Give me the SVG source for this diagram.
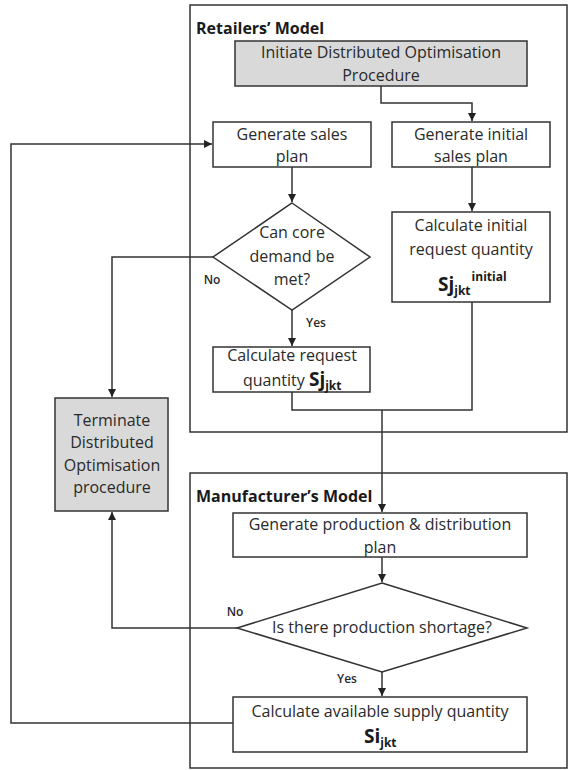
<svg xmlns="http://www.w3.org/2000/svg" width="569" height="770" viewBox="0 0 569 770">
<defs>
<marker id="ah" markerWidth="8" markerHeight="8" refX="8" refY="4" orient="auto" markerUnits="userSpaceOnUse">
<path d="M0,0 L8,4 L0,8 Z" fill="#222"/>
</marker>
<style>
.frame{fill:none;stroke:#333;stroke-width:1.5}
.box{fill:#fff;stroke:#333;stroke-width:1.5}
.grey{fill:#d9d9d9;stroke:#333;stroke-width:1.5}
.t{font-family:"Open Sans","Liberation Sans",Arial,sans-serif;font-size:16px;fill:#2a2a2a;text-anchor:middle}
.ts{font-family:"Open Sans","Liberation Sans",Arial,sans-serif;font-size:16px;fill:#2a2a2a;text-anchor:start}
.h{font-family:"Open Sans","Liberation Sans",Arial,sans-serif;font-size:16px;font-weight:bold;fill:#1a1a1a}
.lbl{font-family:"Open Sans","Liberation Sans",Arial,sans-serif;font-size:12px;font-weight:600;fill:#2a2a2a;text-anchor:middle}
.big{font-family:"Open Sans","Liberation Sans",Arial,sans-serif;font-weight:bold;fill:#1a1a1a}
.c{fill:none;stroke:#333;stroke-width:1.5}
</style>
</defs>
<rect id="retailers" class="frame" x="190" y="5" width="377" height="427"/>
<text class="h" x="196" y="34">Retailers’ Model</text>
<rect id="manufacturer" class="frame" x="190" y="473" width="377" height="295"/>
<text class="h" x="196" y="502">Manufacturer’s Model</text>
<g id="connectors">
<path class="c" d="M381,86 V103 H472 V121" marker-end="url(#ah)"/>
<path class="c" d="M292,167 V202" marker-end="url(#ah)"/>
<path class="c" d="M292,310 V346" marker-end="url(#ah)"/>
<path class="c" d="M472,167 V211" marker-end="url(#ah)"/>
<path class="c" d="M292,392 V410 H472 V302"/>
<path class="c" d="M382,410 V512" marker-end="url(#ah)"/>
<path class="c" d="M213,257 H112 V397" marker-end="url(#ah)"/>
<path class="c" d="M382,557 V582" marker-end="url(#ah)"/>
<path class="c" d="M237,628 H112 V512" marker-end="url(#ah)"/>
<path class="c" d="M382,672 V696" marker-end="url(#ah)"/>
<path class="c" d="M233,723 H11 V144 H212" marker-end="url(#ah)"/>
</g>
<g id="initiate">
<rect class="grey" x="235" y="41" width="292" height="45"/>
<text class="t" x="381" y="58">Initiate Distributed Optimisation</text>
<text class="t" x="381" y="81">Procedure</text>
</g>
<g id="gen-sales">
<rect class="box" x="213" y="122" width="158" height="45"/>
<text class="t" x="292" y="140">Generate sales</text>
<text class="t" x="292" y="162">plan</text>
</g>
<g id="gen-initial">
<rect class="box" x="392" y="122" width="158" height="45"/>
<text class="t" x="471" y="140">Generate initial</text>
<text class="t" x="471" y="162">sales plan</text>
</g>
<g id="core-demand">
<path class="box" d="M292,203 L370,257 L292,310 L213,257 Z"/>
<text class="t" x="292" y="238">Can core</text>
<text class="t" x="292" y="262">demand be</text>
<text class="t" x="292" y="285">met?</text>
</g>
<g id="calc-initial">
<rect class="box" x="392" y="212" width="158" height="90"/>
<text class="t" x="471" y="231">Calculate initial</text>
<text class="t" x="471" y="255">request quantity</text>
<text class="big" x="438" y="291" font-size="19">Sj<tspan font-size="12" dy="4">jkt</tspan><tspan font-size="12" dy="-14" dx="1">initial</tspan></text>
</g>
<g id="calc-request">
<rect class="box" x="213" y="347" width="157" height="45"/>
<text class="t" x="292" y="361">Calculate request</text>
<text class="ts" x="243" y="386">quantity <tspan class="big" font-size="19">Sj</tspan><tspan class="big" font-size="12" dy="4">jkt</tspan></text>
</g>
<g id="terminate">
<rect class="grey" x="55" y="398" width="113" height="113"/>
<text class="t" x="112" y="426">Terminate</text>
<text class="t" x="112" y="448">Distributed</text>
<text class="t" x="112" y="471">Optimisation</text>
<text class="t" x="112" y="493">procedure</text>
</g>
<g id="gen-production">
<rect class="box" x="233" y="513" width="294" height="44"/>
<text class="t" x="380" y="530">Generate production &amp; distribution</text>
<text class="t" x="380" y="553">plan</text>
</g>
<g id="shortage">
<path class="box" d="M382,583 L527,628 L382,672 L237,628 Z"/>
<text class="t" x="382" y="633">Is there production shortage?</text>
</g>
<g id="calc-supply">
<rect class="box" x="233" y="697" width="294" height="55"/>
<text class="t" x="380" y="717">Calculate available supply quantity</text>
<text class="big" x="364" y="743" font-size="19">Si<tspan font-size="12" dy="4">jkt</tspan></text>
</g>
<g id="labels">
<text class="lbl" x="212" y="284">No</text>
<text class="lbl" x="316" y="327">Yes</text>
<text class="lbl" x="235" y="616">No</text>
<text class="lbl" x="347" y="683">Yes</text>
</g>
</svg>
